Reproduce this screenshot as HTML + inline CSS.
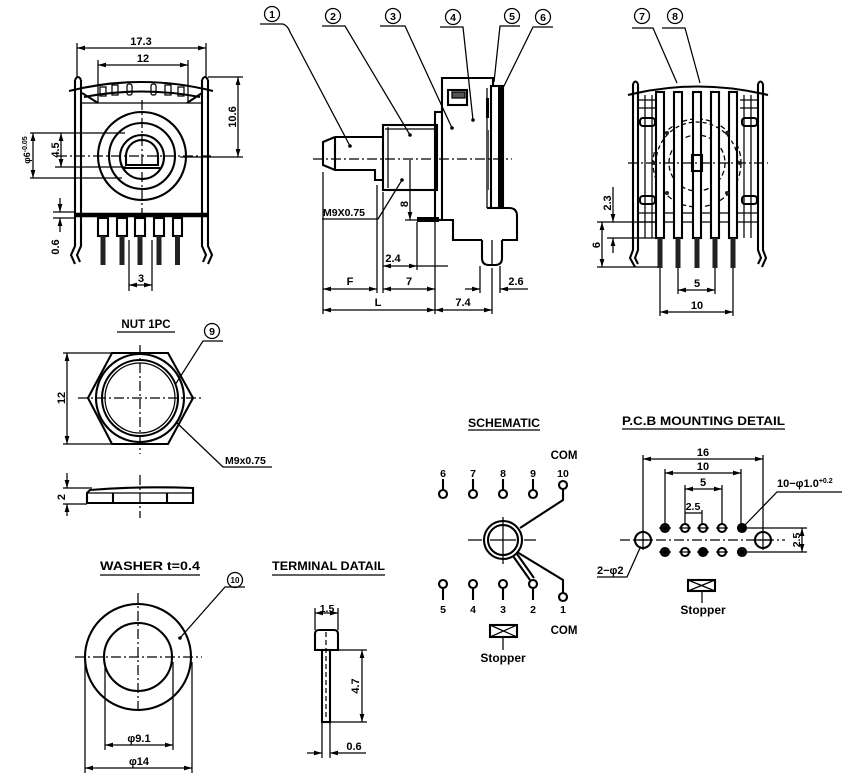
<!DOCTYPE html>
<html><head><meta charset="utf-8"><style>
html,body{margin:0;padding:0;background:#fff;}
svg{display:block;}
text{font-family:"Liberation Sans",sans-serif;font-weight:bold;fill:#000;stroke:none;}
.o{stroke-width:2.1}
.d{stroke-width:1.25}
.c{stroke-width:1.25;stroke-dasharray:10 3 2 3}
.h{stroke-width:1.25;stroke-dasharray:5 3}
</style></head><body>
<svg width="858" height="783" viewBox="0 0 858 783" xmlns="http://www.w3.org/2000/svg">
<defs>
<marker id="a" viewBox="0 0 10 6" refX="10" refY="3" markerWidth="8" markerHeight="5" markerUnits="userSpaceOnUse" orient="auto-start-reverse"><path d="M0,0L10,3L0,6z" fill="#000"/></marker>
</defs>
<rect width="858" height="783" fill="#fff"/>
<g fill="none" stroke="#000">

<!-- ================= FRONT VIEW ================= -->
<line class="d" x1="77" y1="48" x2="206" y2="48" marker-start="url(#a)" marker-end="url(#a)"/>
<line class="d" x1="77" y1="43" x2="77" y2="78"/>
<line class="d" x1="206" y1="43" x2="206" y2="78"/>
<line class="d" x1="98" y1="65" x2="188" y2="65" marker-start="url(#a)" marker-end="url(#a)"/>
<line class="d" x1="98" y1="60" x2="98" y2="103"/>
<line class="d" x1="188" y1="60" x2="188" y2="103"/>
<text x="141" y="45" font-size="11" text-anchor="middle">17.3</text>
<text x="143" y="62" font-size="11" text-anchor="middle">12</text>

<path class="o" d="M75,80 L75,246 L71,255 L75,264 M81,80 L81,246 L77,255 L80,262 M75,80 Q78,74 81,80"/>
<path class="o" d="M202,80 L202,246 L206,255 L203,262 M208,80 L208,246 L212,255 L208,264 M202,80 Q205,74 208,80"/>
<path class="o" d="M69,91 Q141,73 213,91"/>
<path class="o" d="M84,97 Q141,86 200,97"/>
<line class="o" x1="82" y1="93" x2="98" y2="103"/>
<line class="o" x1="202" y1="93" x2="187" y2="103"/>
<line class="d" x1="82" y1="103" x2="202" y2="103"/>
<rect class="d" x="100" y="87" width="6" height="9"/>
<rect class="d" x="112" y="85" width="6" height="10"/>
<rect class="d" x="127" y="84" width="5" height="11" rx="2"/>
<rect class="d" x="151" y="84" width="5" height="11" rx="2"/>
<rect class="d" x="165" y="85" width="6" height="10"/>
<rect class="d" x="178" y="87" width="6" height="9"/>

<circle class="o" cx="142" cy="156" r="44"/>
<circle class="o" cx="142" cy="156" r="33"/>
<circle class="o" cx="142" cy="157" r="22"/>
<path class="o" d="M126,165 L126,156 A16,16 0 0 1 158,156 L158,165 Z"/>
<line class="o" x1="124" y1="168" x2="160" y2="168"/>
<line class="c" x1="57" y1="156" x2="213" y2="156"/>
<line class="c" x1="142" y1="100" x2="142" y2="220"/>

<line class="d" x1="30" y1="133" x2="125" y2="133"/>
<line class="d" x1="55" y1="167" x2="126" y2="167"/>
<line class="d" x1="30" y1="178" x2="122" y2="178"/>
<line class="d" x1="61" y1="133" x2="61" y2="167" marker-start="url(#a)" marker-end="url(#a)"/>
<line class="d" x1="33" y1="133" x2="33" y2="178" marker-start="url(#a)" marker-end="url(#a)"/>
<text transform="translate(59,150) rotate(-90)" font-size="11" text-anchor="middle">4.5</text>
<text transform="translate(30,150) rotate(-90)" font-size="9" text-anchor="middle">φ6<tspan font-size="7" dy="-3">-0.05</tspan></text>

<line class="d" x1="208" y1="77" x2="243" y2="77"/>
<line class="d" x1="180" y1="157" x2="243" y2="157"/>
<line class="d" x1="238" y1="77" x2="238" y2="157" marker-start="url(#a)" marker-end="url(#a)"/>
<text transform="translate(236,117) rotate(-90)" font-size="11" text-anchor="middle">10.6</text>

<line x1="75" y1="215" x2="208" y2="215" stroke-width="4.5"/>
<line class="d" x1="53" y1="212" x2="75" y2="212"/>
<line class="d" x1="53" y1="218" x2="75" y2="218"/>
<line class="d" x1="60" y1="198" x2="60" y2="212" marker-end="url(#a)"/>
<line class="d" x1="60" y1="232" x2="60" y2="218" marker-end="url(#a)"/>
<text transform="translate(59,247) rotate(-90)" font-size="11" text-anchor="middle">0.6</text>

<rect class="o" x="98" y="218" width="10" height="18"/>
<rect class="o" x="117" y="218" width="10" height="18"/>
<rect class="o" x="135" y="218" width="10" height="18"/>
<rect class="o" x="154" y="218" width="10" height="18"/>
<rect class="o" x="173" y="218" width="9" height="18"/>
<g fill="#222" stroke="none">
<rect x="100.5" y="236" width="5" height="29"/>
<rect x="119.5" y="236" width="5" height="29"/>
<rect x="137.5" y="236" width="5" height="29"/>
<rect x="156.5" y="236" width="5" height="29"/>
<rect x="175" y="236" width="5" height="29"/>
</g>
<line class="d" x1="129" y1="240" x2="129" y2="291"/>
<line class="d" x1="152" y1="240" x2="152" y2="291"/>
<line class="d" x1="129" y1="285" x2="152" y2="285" marker-start="url(#a)" marker-end="url(#a)"/>
<text x="141" y="282" font-size="11" text-anchor="middle">3</text>

<!-- ================= SIDE VIEW ================= -->
<circle class="d" cx="272" cy="14" r="7.5"/><text x="272" y="18" font-size="10.5" text-anchor="middle">1</text>
<path class="d" d="M260,24 L283,24 Q288,26 290,32 L350,146"/>
<circle class="d" cx="333" cy="16" r="7.5"/><text x="333" y="20" font-size="10.5" text-anchor="middle">2</text>
<path class="d" d="M322,26 L345,26 L410,135"/>
<circle class="d" cx="393" cy="16" r="7.5"/><text x="393" y="20" font-size="10.5" text-anchor="middle">3</text>
<path class="d" d="M380,26 L405,26 L452,128"/>
<circle class="d" cx="453" cy="17" r="7.5"/><text x="453" y="21" font-size="10.5" text-anchor="middle">4</text>
<path class="d" d="M440,27 L463,27 L473,120"/>
<circle class="d" cx="512" cy="16" r="7.5"/><text x="512" y="20" font-size="10.5" text-anchor="middle">5</text>
<path class="d" d="M520,26 L500,26 L494,82"/>
<circle class="d" cx="543" cy="17" r="7.5"/><text x="543" y="21" font-size="10.5" text-anchor="middle">6</text>
<path class="d" d="M553,27 L533,27 L503,88"/>
<g fill="#000" stroke="none">
<circle cx="350" cy="146" r="1.8"/><circle cx="410" cy="135" r="1.8"/><circle cx="452" cy="128" r="1.8"/><circle cx="473" cy="120" r="1.8"/><circle cx="402" cy="180" r="1.8"/>
</g>

<path class="o" d="M335,137 L383,137 M335,137 L323,142 L323,165 L335,170 L375,170 L375,180 L383,180"/>
<line class="o" x1="335" y1="137" x2="335" y2="170"/>
<rect class="o" x="383" y="125" width="54" height="65"/>
<line class="d" x1="388" y1="127" x2="388" y2="188"/>
<line class="d" x1="385" y1="129" x2="435" y2="129"/>
<rect class="o" x="435" y="112" width="7" height="108"/>
<path class="o" d="M442,112 L442,78 L493,78 L493,86"/>
<rect class="o" x="448" y="90" width="19" height="15"/>
<rect class="d" x="452" y="92" width="13" height="6" fill="#555"/>
<line class="d" x1="487" y1="88" x2="487" y2="208"/>
<rect class="o" x="491" y="86" width="12" height="122"/>
<rect x="498" y="86" width="5" height="121" fill="#000" stroke="none"/>
<rect x="486" y="98" width="3" height="20" fill="#000" stroke="none"/>
<rect x="486" y="130" width="3" height="60" fill="#555" stroke="none"/>
<path class="o" d="M442,220 L453,220 L453,240 L482,240 M502,240 L517,240 L517,216 Q517,208 509,208 L487,208"/>
<path class="o" d="M482,240 L482,258 Q482,265 489,265 L495,265 Q502,265 502,258 L502,240"/>
<line class="d" x1="492" y1="240" x2="492" y2="265"/>
<rect x="417" y="217" width="22" height="5" fill="#000" stroke="none"/>
<line class="c" x1="313" y1="159" x2="512" y2="159"/>

<text x="323" y="216" font-size="10.5">M9X0.75</text>
<path class="d" d="M322,219 L378,219 L402,180"/>
<line class="d" x1="410" y1="160" x2="410" y2="220" marker-end="url(#a)"/>
<line class="d" x1="405" y1="220" x2="442" y2="220"/>
<text transform="translate(408,204) rotate(-90)" font-size="11" text-anchor="middle">8</text>

<line class="d" x1="323" y1="172" x2="323" y2="314"/>
<line class="d" x1="377" y1="185" x2="377" y2="293"/>
<line class="d" x1="383" y1="192" x2="383" y2="293"/>
<line class="d" x1="417" y1="222" x2="417" y2="270"/>
<line class="d" x1="435" y1="222" x2="435" y2="314"/>
<line class="d" x1="492" y1="268" x2="492" y2="314"/>
<line class="d" x1="480" y1="266" x2="480" y2="293"/>
<line class="d" x1="500" y1="266" x2="500" y2="293"/>
<line class="d" x1="383" y1="266" x2="417" y2="266" marker-start="url(#a)" marker-end="url(#a)"/>
<line class="d" x1="417" y1="266" x2="448" y2="266"/>
<text x="393" y="262" font-size="11" text-anchor="middle">2.4</text>
<line class="d" x1="323" y1="289" x2="377" y2="289" marker-start="url(#a)" marker-end="url(#a)"/>
<text x="350" y="285" font-size="11" text-anchor="middle">F</text>
<line class="d" x1="383" y1="289" x2="435" y2="289" marker-start="url(#a)" marker-end="url(#a)"/>
<text x="409" y="285" font-size="11" text-anchor="middle">7</text>
<line class="d" x1="323" y1="310" x2="435" y2="310" marker-start="url(#a)" marker-end="url(#a)"/>
<text x="378" y="306" font-size="11" text-anchor="middle">L</text>
<line class="d" x1="435" y1="310" x2="492" y2="310" marker-start="url(#a)" marker-end="url(#a)"/>
<text x="463" y="306" font-size="11" text-anchor="middle">7.4</text>
<line class="d" x1="465" y1="289" x2="480" y2="289" marker-end="url(#a)"/>
<line class="d" x1="528" y1="289" x2="500" y2="289" marker-end="url(#a)"/>
<text x="516" y="285" font-size="11" text-anchor="middle">2.6</text>

<!-- ================= REAR VIEW ================= -->
<circle class="d" cx="642" cy="16" r="7.5"/><text x="642" y="20" font-size="10.5" text-anchor="middle">7</text>
<path class="d" d="M632,28 L653,28 L677,83"/>
<circle class="d" cx="675" cy="16" r="7.5"/><text x="675" y="20" font-size="10.5" text-anchor="middle">8</text>
<path class="d" d="M662,28 L685,28 L700,83"/>
<path class="o" d="M633,84 L633,250 L630,258 L635,267 M638,84 L638,250 L635,258 L638,264 M633,84 Q635.5,79 638,84"/>
<path class="o" d="M758,84 L758,250 L761,258 L758,264 M763,84 L763,250 L766,258 L762,267 M758,84 Q760.5,79 763,84"/>
<path class="o" d="M628,95 Q697,78 768,95"/>
<line class="d" x1="645" y1="95" x2="645" y2="238"/>
<line class="d" x1="652" y1="95" x2="652" y2="238"/>
<line class="d" x1="744" y1="95" x2="744" y2="238"/>
<line class="d" x1="751" y1="95" x2="751" y2="238"/>
<line class="d" x1="638" y1="100" x2="656" y2="100"/><line class="d" x1="638" y1="108" x2="656" y2="108"/>
<line class="d" x1="740" y1="100" x2="758" y2="100"/><line class="d" x1="740" y1="108" x2="758" y2="108"/>
<rect class="o" x="640" y="118" width="15" height="8" rx="3"/>
<rect class="o" x="742" y="118" width="15" height="8" rx="3"/>
<rect class="o" x="640" y="196" width="15" height="8" rx="3"/>
<rect class="o" x="742" y="196" width="15" height="8" rx="3"/>
<line class="d" x1="638" y1="213" x2="758" y2="213"/>
<line class="d" x1="638" y1="222" x2="758" y2="222"/>
<circle class="h" cx="697" cy="163" r="44"/>
<circle class="h" cx="697" cy="163" r="28"/>
<rect class="o" x="656" y="92" width="8" height="146" fill="#fff"/>
<rect class="o" x="674" y="92" width="8" height="146" fill="#fff"/>
<rect class="o" x="693" y="92" width="8" height="146" fill="#fff"/>
<rect class="o" x="711" y="92" width="8" height="146" fill="#fff"/>
<rect class="o" x="729" y="92" width="8" height="146" fill="#fff"/>
<path class="d" d="M656,163 A41,41 0 0 1 738,163" stroke-dasharray="4 3"/>
<rect class="o" x="692" y="155" width="10" height="16"/>
<line class="c" x1="628" y1="163" x2="768" y2="163"/>
<g fill="#222" stroke="none">
<rect x="657.5" y="238" width="5" height="30"/>
<rect x="675.5" y="238" width="5" height="30"/>
<rect x="694.5" y="238" width="5" height="30"/>
<rect x="712.5" y="238" width="5" height="30"/>
<rect x="730.5" y="238" width="5" height="30"/>
<circle cx="654" cy="163" r="2"/><circle cx="740" cy="163" r="2"/><circle cx="667" cy="133" r="2"/><circle cx="727" cy="133" r="2"/><circle cx="667" cy="193" r="2"/><circle cx="727" cy="193" r="2"/>
</g>
<line class="d" x1="597" y1="222" x2="656" y2="222"/>
<line class="d" x1="607" y1="238" x2="656" y2="238"/>
<line class="d" x1="597" y1="267" x2="658" y2="267"/>
<line class="d" x1="613" y1="187" x2="613" y2="222" marker-end="url(#a)"/>
<line class="d" x1="613" y1="253" x2="613" y2="238" marker-end="url(#a)"/>
<text transform="translate(611,203) rotate(-90)" font-size="11" text-anchor="middle">2.3</text>
<line class="d" x1="602" y1="222" x2="602" y2="267" marker-start="url(#a)" marker-end="url(#a)"/>
<text transform="translate(600,245) rotate(-90)" font-size="11" text-anchor="middle">6</text>
<line class="d" x1="660" y1="268" x2="660" y2="316"/>
<line class="d" x1="733" y1="268" x2="733" y2="316"/>
<line class="d" x1="678" y1="268" x2="678" y2="294"/>
<line class="d" x1="715" y1="268" x2="715" y2="294"/>
<line class="d" x1="678" y1="290" x2="715" y2="290" marker-start="url(#a)" marker-end="url(#a)"/>
<text x="697" y="287" font-size="11" text-anchor="middle">5</text>
<line class="d" x1="660" y1="312" x2="733" y2="312" marker-start="url(#a)" marker-end="url(#a)"/>
<text x="697" y="309" font-size="11" text-anchor="middle">10</text>

<!-- ================= NUT ================= -->
<text x="146" y="328" font-size="11.5" text-anchor="middle">NUT  1PC</text>
<line class="d" x1="117" y1="332" x2="175" y2="332"/>
<circle class="d" cx="212" cy="331" r="7.5"/><text x="212" y="335" font-size="10.5" text-anchor="middle">9</text>
<path class="d" d="M223,341 L203,341 L175,385"/>
<path class="o" d="M88,398 L112,353 L168,353 L193,398 L168,444 L112,444 Z"/>
<circle class="o" cx="140" cy="398" r="44"/>
<circle class="o" cx="140" cy="398" r="38"/>
<circle class="d" cx="140" cy="398" r="35"/>
<line class="c" x1="78" y1="398" x2="203" y2="398"/>
<line class="c" x1="140" y1="345" x2="140" y2="454"/>
<line class="d" x1="63" y1="353" x2="112" y2="353"/>
<line class="d" x1="63" y1="444" x2="112" y2="444"/>
<line class="d" x1="67" y1="353" x2="67" y2="444" marker-start="url(#a)" marker-end="url(#a)"/>
<text transform="translate(65,398) rotate(-90)" font-size="11" text-anchor="middle">12</text>
<text x="225" y="464" font-size="10.5">M9x0.75</text>
<path class="d" d="M272,467 L223,467 L177,423"/>
<path class="o" d="M90,490 Q140,486 193,488 L193,503 L87,503 L87,493 Z"/>
<line class="d" x1="87" y1="493" x2="193" y2="493"/>
<line class="o" x1="113" y1="493" x2="113" y2="503"/>
<line class="o" x1="167" y1="493" x2="167" y2="503"/>
<line class="c" x1="140" y1="475" x2="140" y2="518"/>
<line class="d" x1="63" y1="488" x2="92" y2="488"/>
<line class="d" x1="63" y1="504" x2="87" y2="504"/>
<line class="d" x1="67" y1="473" x2="67" y2="488" marker-end="url(#a)"/>
<line class="d" x1="67" y1="516" x2="67" y2="504" marker-end="url(#a)"/>
<text transform="translate(65,497) rotate(-90)" font-size="11" text-anchor="middle">2</text>

<!-- ================= WASHER ================= -->
<text x="100" y="570" font-size="12" textLength="100" lengthAdjust="spacingAndGlyphs">WASHER  t=0.4</text>
<line class="d" x1="100" y1="575" x2="200" y2="575"/>
<circle class="d" cx="235" cy="580" r="7.5"/><text x="235" y="583" font-size="8" text-anchor="middle">10</text>
<path class="d" d="M245,587 L225,587 L180,638"/>
<circle cx="180" cy="638" r="1.8" fill="#000" stroke="none"/>
<circle class="o" cx="138" cy="657" r="53"/>
<circle class="o" cx="138" cy="657" r="34"/>
<line class="c" x1="75" y1="657" x2="202" y2="657"/>
<line class="c" x1="138" y1="593" x2="138" y2="713"/>
<line class="d" x1="105" y1="662" x2="105" y2="750"/>
<line class="d" x1="173" y1="662" x2="173" y2="750"/>
<line class="d" x1="85" y1="662" x2="85" y2="773"/>
<line class="d" x1="192" y1="662" x2="192" y2="773"/>
<line class="d" x1="105" y1="745" x2="173" y2="745" marker-start="url(#a)" marker-end="url(#a)"/>
<text x="139" y="742" font-size="11" text-anchor="middle">φ9.1</text>
<line class="d" x1="85" y1="768" x2="192" y2="768" marker-start="url(#a)" marker-end="url(#a)"/>
<text x="139" y="765" font-size="11" text-anchor="middle">φ14</text>

<!-- ================= TERMINAL ================= -->
<text x="272" y="570" font-size="11.5" textLength="113" lengthAdjust="spacingAndGlyphs">TERMINAL  DATAIL</text>
<line class="d" x1="272" y1="575" x2="385" y2="575"/>
<path class="o" d="M315,650 L315,634 Q315,630 319,630 L334,630 Q338,630 338,634 L338,650 Z"/>
<rect class="o" x="322" y="650" width="8" height="72"/>
<line class="h" x1="326" y1="632" x2="326" y2="720"/>
<line class="d" x1="322" y1="722" x2="322" y2="758"/>
<line class="d" x1="330" y1="722" x2="330" y2="758"/>
<line class="d" x1="315" y1="608" x2="315" y2="630"/>
<line class="d" x1="338" y1="608" x2="338" y2="630"/>
<line class="d" x1="315" y1="613" x2="338" y2="613" marker-start="url(#a)" marker-end="url(#a)"/>
<text x="327" y="612" font-size="10.5" text-anchor="middle">1.5</text>
<line class="d" x1="338" y1="650" x2="367" y2="650"/>
<line class="d" x1="330" y1="722" x2="367" y2="722"/>
<line class="d" x1="362" y1="650" x2="362" y2="722" marker-start="url(#a)" marker-end="url(#a)"/>
<text transform="translate(359,686) rotate(-90)" font-size="11" text-anchor="middle">4.7</text>
<line class="d" x1="307" y1="753" x2="322" y2="753" marker-end="url(#a)"/>
<line class="d" x1="366" y1="753" x2="330" y2="753" marker-end="url(#a)"/>
<text x="354" y="750" font-size="11" text-anchor="middle">0.6</text>

<!-- ================= SCHEMATIC ================= -->
<text x="504" y="427" font-size="11.5" text-anchor="middle" textLength="72" lengthAdjust="spacingAndGlyphs">SCHEMATIC</text>
<line class="d" x1="468" y1="430" x2="540" y2="430"/>
<text x="564" y="459" font-size="11.5" text-anchor="middle">COM</text>
<text x="443" y="477" font-size="10.5" text-anchor="middle">6</text>
<text x="473" y="477" font-size="10.5" text-anchor="middle">7</text>
<text x="503" y="477" font-size="10.5" text-anchor="middle">8</text>
<text x="533" y="477" font-size="10.5" text-anchor="middle">9</text>
<text x="563" y="477" font-size="10.5" text-anchor="middle">10</text>
<g class="o">
<line x1="443" y1="479" x2="443" y2="490"/><circle cx="443" cy="494" r="4"/>
<line x1="473" y1="479" x2="473" y2="490"/><circle cx="473" cy="494" r="4"/>
<line x1="503" y1="479" x2="503" y2="490"/><circle cx="503" cy="494" r="4"/>
<line x1="533" y1="479" x2="533" y2="490"/><circle cx="533" cy="494" r="4"/>
<circle cx="563" cy="485" r="4"/>
</g>
<path class="o" d="M563,489 L563,500 L520,528"/>
<circle class="o" cx="503" cy="540" r="19"/>
<circle class="o" cx="503" cy="540" r="15"/>
<line class="d" x1="468" y1="540" x2="482" y2="540"/>
<line class="d" x1="490" y1="540" x2="516" y2="540"/>
<line class="d" x1="524" y1="540" x2="536" y2="540"/>
<line class="d" x1="503" y1="517" x2="503" y2="564"/>
<g class="o">
<circle cx="443" cy="584" r="4"/><line x1="443" y1="588" x2="443" y2="600"/>
<circle cx="473" cy="584" r="4"/><line x1="473" y1="588" x2="473" y2="600"/>
<circle cx="503" cy="584" r="4"/><line x1="503" y1="588" x2="503" y2="600"/>
<circle cx="533" cy="584" r="4"/><line x1="533" y1="588" x2="533" y2="600"/>
<circle cx="563" cy="597" r="4"/>
</g>
<path class="o" d="M563,593 L563,580 L517,552"/>
<line class="o" x1="513" y1="556" x2="530" y2="580"/>
<line class="o" x1="517" y1="554" x2="534" y2="578"/>
<text x="443" y="613" font-size="10.5" text-anchor="middle">5</text>
<text x="473" y="613" font-size="10.5" text-anchor="middle">4</text>
<text x="503" y="613" font-size="10.5" text-anchor="middle">3</text>
<text x="533" y="613" font-size="10.5" text-anchor="middle">2</text>
<text x="563" y="613" font-size="10.5" text-anchor="middle">1</text>
<text x="564" y="634" font-size="11.5" text-anchor="middle">COM</text>
<rect class="o" x="490" y="625" width="27" height="12"/>
<path class="d" d="M490,625 L517,637 M517,625 L490,637"/>
<line class="d" x1="503" y1="637" x2="503" y2="650"/>
<text x="503" y="662" font-size="12" text-anchor="middle">Stopper</text>

<!-- ================= PCB ================= -->
<text x="622" y="425" font-size="11.5" textLength="163" lengthAdjust="spacingAndGlyphs">P.C.B  MOUNTING  DETAIL</text>
<line class="d" x1="622" y1="429" x2="785" y2="429"/>
<line class="d" x1="643" y1="455" x2="643" y2="532"/>
<line class="d" x1="763" y1="455" x2="763" y2="532"/>
<line class="d" x1="665" y1="469" x2="665" y2="524"/>
<line class="d" x1="741" y1="469" x2="741" y2="524"/>
<line class="d" x1="685" y1="485" x2="685" y2="524"/>
<line class="d" x1="722" y1="485" x2="722" y2="524"/>
<line class="d" x1="702" y1="510" x2="702" y2="524"/>
<line class="d" x1="643" y1="459" x2="763" y2="459" marker-start="url(#a)" marker-end="url(#a)"/>
<text x="703" y="456" font-size="11" text-anchor="middle">16</text>
<line class="d" x1="665" y1="473" x2="741" y2="473" marker-start="url(#a)" marker-end="url(#a)"/>
<text x="703" y="470" font-size="11" text-anchor="middle">10</text>
<line class="d" x1="685" y1="489" x2="722" y2="489" marker-start="url(#a)" marker-end="url(#a)"/>
<text x="703" y="486" font-size="11" text-anchor="middle">5</text>
<line class="d" x1="685" y1="513" x2="702" y2="513"/>
<text x="693" y="510" font-size="10.5" text-anchor="middle">2.5</text>
<line class="c" x1="620" y1="540" x2="785" y2="540"/>
<g class="o">
<circle cx="665" cy="528" r="4"/><circle cx="685" cy="528" r="4"/><circle cx="703" cy="528" r="4"/><circle cx="722" cy="528" r="4"/><circle cx="742" cy="528" r="4"/>
<circle cx="665" cy="552" r="4"/><circle cx="685" cy="552" r="4"/><circle cx="703" cy="552" r="4"/><circle cx="722" cy="552" r="4"/><circle cx="742" cy="552" r="4"/>
<circle cx="643" cy="540" r="8"/><circle cx="763" cy="540" r="8"/>
</g>
<g fill="#000" stroke="none">
<circle cx="742" cy="528" r="4"/><circle cx="703" cy="552" r="4"/><circle cx="742" cy="552" r="3"/><circle cx="665" cy="528" r="3"/><circle cx="665" cy="552" r="3"/>
</g>
<path class="d" d="M633,540 L653,540 M643,530 L643,550 M753,540 L773,540 M763,530 L763,550"/>
<path class="d" d="M659,528 L671,528 M679,528 L691,528 M697,528 L709,528 M716,528 L728,528 M659,552 L671,552 M679,552 L691,552 M697,552 L709,552 M716,552 L728,552"/>
<line class="d" x1="742" y1="528" x2="807" y2="528"/>
<line class="d" x1="742" y1="552" x2="807" y2="552"/>
<line class="d" x1="802" y1="528" x2="802" y2="552" marker-start="url(#a)" marker-end="url(#a)"/>
<text transform="translate(800,540) rotate(-90)" font-size="10.5" text-anchor="middle">2.5</text>
<text x="777" y="487" font-size="11">10−φ1.0<tspan font-size="7" dy="-4">+0.2</tspan></text>
<path class="d" d="M842,492 L777,492 L744,526"/>
<text x="597" y="574" font-size="11">2−φ2</text>
<path class="d" d="M597,577 L627,577 L640,548"/>
<rect class="o" x="688" y="580" width="27" height="11"/>
<path class="d" d="M688,580 L715,591 M715,580 L688,591"/>
<line class="d" x1="702" y1="591" x2="702" y2="603"/>
<text x="703" y="614" font-size="12" text-anchor="middle">Stopper</text>

</g>
</svg>
</body></html>
